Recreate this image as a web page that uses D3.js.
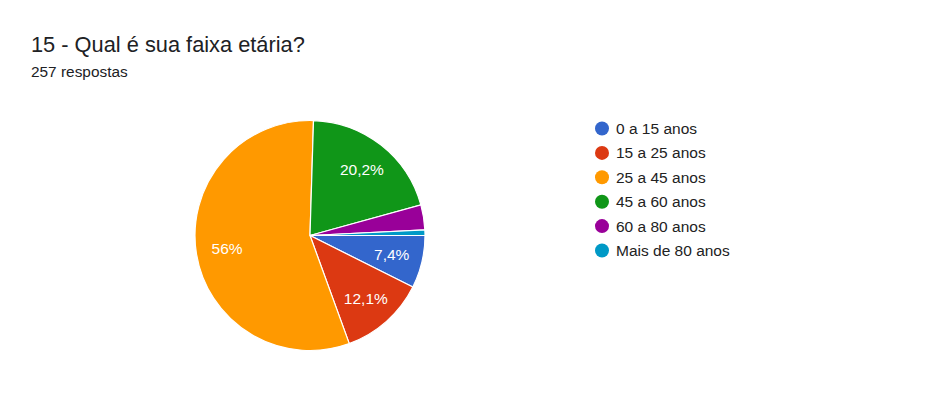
<!DOCTYPE html>
<html>
<head>
<meta charset="utf-8">
<script src="https://cdn.jsdelivr.net/npm/d3@7"></script>
<style>
  body { margin: 0; background: #fff; }
  text { font-family: "Liberation Sans", Arial, sans-serif; }
</style>
</head>
<body>
<svg width="939" height="393"></svg>
<script>
const categories = ['0 a 15 anos', '15 a 25 anos', '25 a 45 anos', '45 a 60 anos', '60 a 80 anos', 'Mais de 80 anos']
const counts = [19, 31, 144, 52, 9, 2]
const labels = ['7,4%', '12,1%', '56%', '20,2%', '', '']
const colors = ['#3366cc', '#dc3912', '#ff9900', '#109618', '#990099', '#0099c6']

const svg = d3.select('svg')

svg.append('text')
  .attr('x', 31).attr('y', 52)
  .attr('font-size', 21.8).attr('fill', '#202124')
  .text('15 - Qual é sua faixa etária?')

svg.append('text')
  .attr('x', 31).attr('y', 77)
  .attr('font-size', 15.4).attr('fill', '#202124')
  .text('257 respostas')

const cx = 310, cy = 235.5, r = 115

const data = categories.map((c, i) => ({ cat: c, value: counts[i], label: labels[i], color: colors[i] }))

const pie = d3.pie()
  .value(d => d.value)
  .sort(null)
  .startAngle(Math.PI / 2)
  .endAngle(Math.PI / 2 + 2 * Math.PI)

const arc = d3.arc().innerRadius(0).outerRadius(r)
const labelArc = d3.arc().innerRadius(r * 0.73).outerRadius(r * 0.73)

const g = svg.append('g').attr('transform', `translate(${cx},${cy})`)
const arcs = pie(data)

g.selectAll('path')
  .data(arcs)
  .join('path')
  .attr('d', arc)
  .attr('fill', d => d.data.color)
  .attr('stroke', '#fff')
  .attr('stroke-width', 1.2)

g.selectAll('text.lbl')
  .data(arcs.filter(d => d.data.label))
  .join('text')
  .attr('class', 'lbl')
  .attr('transform', d => `translate(${labelArc.centroid(d)})`)
  .attr('text-anchor', 'middle')
  .attr('dy', '0.35em')
  .attr('font-size', 15.5)
  .attr('fill', '#fff')
  .text(d => d.data.label)

const legend = svg.append('g').attr('transform', 'translate(602,128.5)')
const rows = legend.selectAll('g')
  .data(data)
  .join('g')
  .attr('transform', (d, i) => `translate(0,${i * 24.4})`)

rows.append('circle')
  .attr('r', 7)
  .attr('fill', d => d.color)

rows.append('text')
  .attr('x', 14)
  .attr('dy', '0.35em')
  .attr('font-size', 15.5)
  .attr('fill', '#222')
  .text(d => d.cat)
</script>
</body>
</html>
